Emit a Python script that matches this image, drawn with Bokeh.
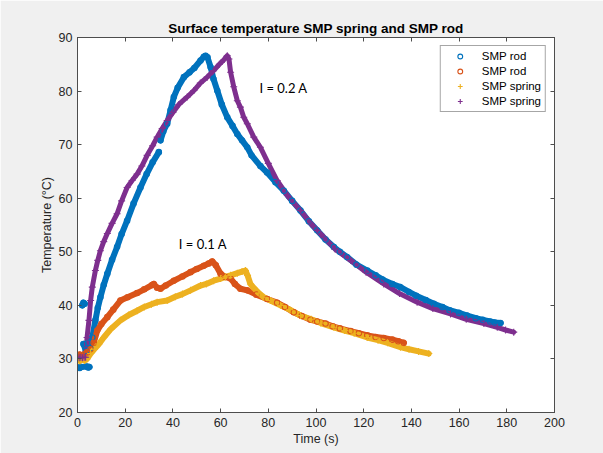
import math
from bokeh.plotting import figure
from bokeh.models import Legend, LegendItem, LinearAxis, Range1d, FixedTicker, Label
from bokeh.embed import file_html
from bokeh.resources import INLINE

nan = float("nan")

# SMP rod, I = 0.2 A (blue)
rod02_t = [0, 0.5, 1, 1.5, 4, 4.5, 5, nan, 2, 2.5, 3, nan, 2.5, 3.5, 4.5, nan,
           5.5, 6.2, 7.5, 8.5, 9.6, 11, 12.5, 14.5, 16.6, 18.5, 20.8, 23.5, 26.4, 29, 31.5, 34.1, nan,
           34.8, 36, 37.6, 39, 40.4, 42, 44.6, 47, 49, 51.6, 53, 53.7, 54.5,
           55.8, 57, 58.6, 60.5, 62.8, 65, 67, 69, 71.2, 73, 76.7, 79.5, 83, 86.5,
           90, 93.5, 97, 100.5, 104, 107.5, 110, 113.1, 117, 121.5, 125, 128, 132,
           135.4, 139, 142, 146, 149.4, 153, 156, 160, 163.4, 167, 170, 173, 175, 177.4]
rod02_y = [28.3, 28.4, 28.3, 28.5, 28.6, 28.4, 28.5, nan, 40.0, 40.5, 40.3, nan, 32.8, 31.5, 33.0, nan,
           32.0, 34.0, 37.2, 39.5, 41.5, 43.8, 45.9, 48.5, 50.9, 53.3, 55.8, 59.0, 62.0, 64.5, 66.7, 68.6, nan,
           70.8, 72.5, 73.9, 76.4, 78.9, 80.6, 82.6, 83.5, 84.3, 85.7, 86.4, 86.6, 86.3,
           84.5, 82.3, 80.1, 77.5, 75.1, 73.5, 72.0, 70.8, 69.5, 68.0, 66.0, 64.8, 63.0, 61.4,
           59.5, 57.7, 55.7, 54.0, 52.3, 50.9, 50.0, 49.0, 47.6, 46.5, 45.6, 44.8, 44.0,
           43.4, 42.5, 41.8, 41.0, 40.3, 39.7, 39.1, 38.6, 38.1, 37.6, 37.3, 37.0, 36.8, 36.7]

# SMP rod, I = 0.1 A (orange)
rod01_t = [0, 1, 2, 3, 4, 5.5, 6.8, 8.3, 10, 12.5, 15, 18, 21, 25, 28, 31.3, 32, 33.4, 34.8,
           37, 40.4, 44, 47.4, 50, 53, 55, 56.5, 58, 60, 62, 64.2, 66, 68.3, 71.2, 75,
           79.5, 83.7, 87, 90.7, 94, 97.7, 100.5, 104, 107, 110, 114.5, 118, 121.5,
           125, 128.4, 132, 134.5, 136.8]
rod01_y = [30.5, 30.8, 30.6, 30.9, 31.2, 31.8, 33.0, 35.3, 36.5, 37.8, 39.2, 40.9, 41.5, 42.3, 43.0, 43.8, 44.0, 43.3, 43.1,
           43.7, 44.6, 45.4, 46.2, 46.8, 47.4, 47.8, 48.2, 47.5, 45.9, 45.3, 45.0, 44.0, 43.1, 42.8, 42.0,
           41.2, 40.5, 39.7, 38.7, 38.0, 37.3, 37.0, 36.6, 36.1, 35.7, 35.2, 34.8, 34.4,
           34.1, 33.9, 33.6, 33.3, 33.0]

# SMP spring, I = 0.1 A (yellow)
spr01_t = [0, 1, 2, 3, 4, 5.5, 7, 9, 11, 14, 18, 21.5, 25, 28, 31, 33.4, 37.6, 41, 44,
           47.4, 51.6, 54, 57.1, 60, 62, 64.2, 67, 69, 70.4, 71.3, 72.5, 74, 76, 78.1,
           80.9, 85.1, 89, 93.5, 98, 102, 107.5, 112, 116, 121.5, 126, 130, 135.4, 139,
           143, 147.3]
spr01_y = [29.8, 29.6, 29.9, 29.7, 30.0, 31.0, 31.8, 32.8, 34.0, 35.6, 37.2, 38.2, 39.0, 39.7, 40.2, 40.6, 40.9, 41.6, 42.1,
           42.8, 43.7, 44.0, 44.6, 45.0, 45.3, 45.6, 46.0, 46.3, 46.5, 45.6, 44.0, 43.2, 42.3, 41.5,
           40.9, 40.0, 39.2, 38.1, 37.4, 36.7, 35.9, 35.3, 34.8, 34.0, 33.5, 33.0, 32.2, 31.8,
           31.4, 31.0]

# SMP spring, I = 0.2 A (purple)
spr02_t = [0, 0.7, 1.4, 2.1, 2.8, 3.4, 4.0, 4.8, 5.5, 6.2, 7.5, 8.5, 9.6, 11, 12.5, 14.5, 16.6,
           18.5, 20.8, 22.9, 25, 27, 29.2, 31.5, 33.4, 35.5, 37.6, 40, 42.5, 46, 48.8,
           51.5, 54.4, 57, 59.5, 61.5, 62.8, 63.5, 64.2, 65.5, 67, 68.3, 69.7, 71.2, 73.9,
           76.7, 80, 83.7, 88, 93.5, 98, 100.5, 103.3, 108, 114.5, 121, 128.4, 135,
           142.4, 149, 156.4, 163, 170.4, 176, 179.5, 182.9]
spr02_y = [30.3, 30.2, 30.3, 30.2, 30.3, 30.3, 34.0, 37.2, 40.9, 43.4, 46.5, 48.4, 50.2, 51.9, 53.4, 55.3, 57.1,
           59.5, 62.0, 63.3, 64.5, 66.0, 68.0, 69.8, 71.4, 73.0, 74.5, 76.0, 77.5, 78.9, 80.1,
           81.5, 82.6, 83.8, 85.0, 85.9, 86.6, 86.0, 83.5, 80.8, 78.2, 77.0, 75.1, 73.9, 71.4,
           69.5, 66.5, 63.3, 60.5, 57.7, 55.2, 54.0, 52.7, 50.5, 48.4, 46.2, 44.0, 42.2,
           40.6, 39.4, 38.4, 37.4, 36.6, 35.9, 35.4, 35.0]

x_ticks = [0, 20, 40, 60, 80, 100, 120, 140, 160, 180, 200]
y_ticks = [20, 30, 40, 50, 60, 70, 80, 90]

blue = "#0072BD"
orange = "#D95319"
yellow = "#EDB120"
purple = "#7E2F8E"
axis_col = "#4d4d4d"
txt_col = "#262626"

p = figure(width=603, height=453, output_backend="svg", toolbar_location=None,
           x_range=Range1d(0, 200), y_range=Range1d(20, 90),
           min_border_left=77, min_border_right=49, min_border_top=37, min_border_bottom=41,
           background_fill_color="white", border_fill_color="#f0f0f0",
           title="Surface temperature SMP spring and SMP rod")
p.title.align = "center"
p.title.text_font = "Liberation Sans"
p.title.text_font_size = "13.5px"
p.title.text_font_style = "bold"
p.title.text_color = "#000000"
p.title.offset = 0
p.title.standoff = 3
p.xgrid.visible = False
p.ygrid.visible = False
p.outline_line_color = axis_col
p.outline_line_width = 1

def style_axis(ax, ticks, show_labels):
    ax.ticker = FixedTicker(ticks=ticks)
    ax.axis_line_color = axis_col
    ax.major_tick_line_color = axis_col
    ax.major_tick_in = 4
    ax.major_tick_out = 0
    ax.minor_tick_line_color = None
    ax.major_label_text_font = "Liberation Sans"
    ax.major_label_text_font_size = "12.5px"
    ax.major_label_text_color = txt_col
    ax.axis_label_text_font = "Liberation Sans"
    ax.axis_label_text_font_size = "12.5px"
    ax.axis_label_text_font_style = "normal"
    ax.axis_label_text_color = txt_col
    if not show_labels:
        ax.major_label_text_alpha = 0
        ax.major_label_text_font_size = "1px"

style_axis(p.xaxis[0], x_ticks, True)
style_axis(p.yaxis[0], y_ticks, True)
p.xaxis[0].axis_label = "Time (s)"
p.yaxis[0].axis_label = "Temperature (°C)"
p.xaxis[0].major_label_standoff = 5
p.xaxis[0].axis_label_standoff = 2
p.yaxis[0].major_label_standoff = 5
p.yaxis[0].axis_label_standoff = 2

top_ax = LinearAxis()
style_axis(top_ax, x_ticks, False)
p.add_layout(top_ax, "above")
right_ax = LinearAxis()
style_axis(right_ax, y_ticks, False)
p.add_layout(right_ax, "right")

# dense-marker bands
p.line(rod02_t, rod02_y, color=blue, line_width=6, line_join="round", line_cap="round")
p.line(spr02_t, spr02_y, color=purple, line_width=5, line_join="round", line_cap="round")
p.line(rod01_t, rod01_y, color=orange, line_width=6, line_join="round", line_cap="round")
p.line(spr01_t, spr01_y, color=yellow, line_width=6, line_join="round", line_cap="round")

r1 = p.scatter(rod02_t, rod02_y, marker="circle", size=5.5, fill_color=None, line_color=blue, line_width=1.1)
r2 = p.scatter(rod01_t, rod01_y, marker="circle", size=5.5, fill_color=None, line_color=orange, line_width=1.1)
r3 = p.scatter(spr01_t, spr01_y, marker="cross", size=7, line_color=yellow, line_width=1.1)
r4 = p.scatter(spr02_t, spr02_y, marker="cross", size=7, line_color=purple, line_width=1.1)

legend = Legend(items=[
    LegendItem(label="SMP rod", renderers=[r1]),
    LegendItem(label="SMP rod", renderers=[r2]),
    LegendItem(label="SMP spring", renderers=[r3]),
    LegendItem(label="SMP spring", renderers=[r4]),
], location="top_right")
legend.margin = 8
legend.padding = 4
legend.spacing = 3
legend.label_height = 12
legend.glyph_height = 12
legend.glyph_width = 30
legend.label_standoff = 7
legend.label_text_font = "Liberation Sans"
legend.label_text_font_size = "11.5px"
legend.label_text_color = "#000000"
legend.border_line_color = axis_col
legend.border_line_width = 1
legend.background_fill_color = "white"
legend.background_fill_alpha = 1
p.add_layout(legend)

p.add_layout(Label(x=76.3, y=80.5, text="I = 0.2 A", text_font="Lato", text_font_size="13px",
                   text_baseline="middle", text_color="#000000"))
p.add_layout(Label(x=42.5, y=51.5, text="I = 0.1 A", text_font="Lato", text_font_size="13px",
                   text_baseline="middle", text_color="#000000"))

open("out.html", "w").write(file_html(p, INLINE))
